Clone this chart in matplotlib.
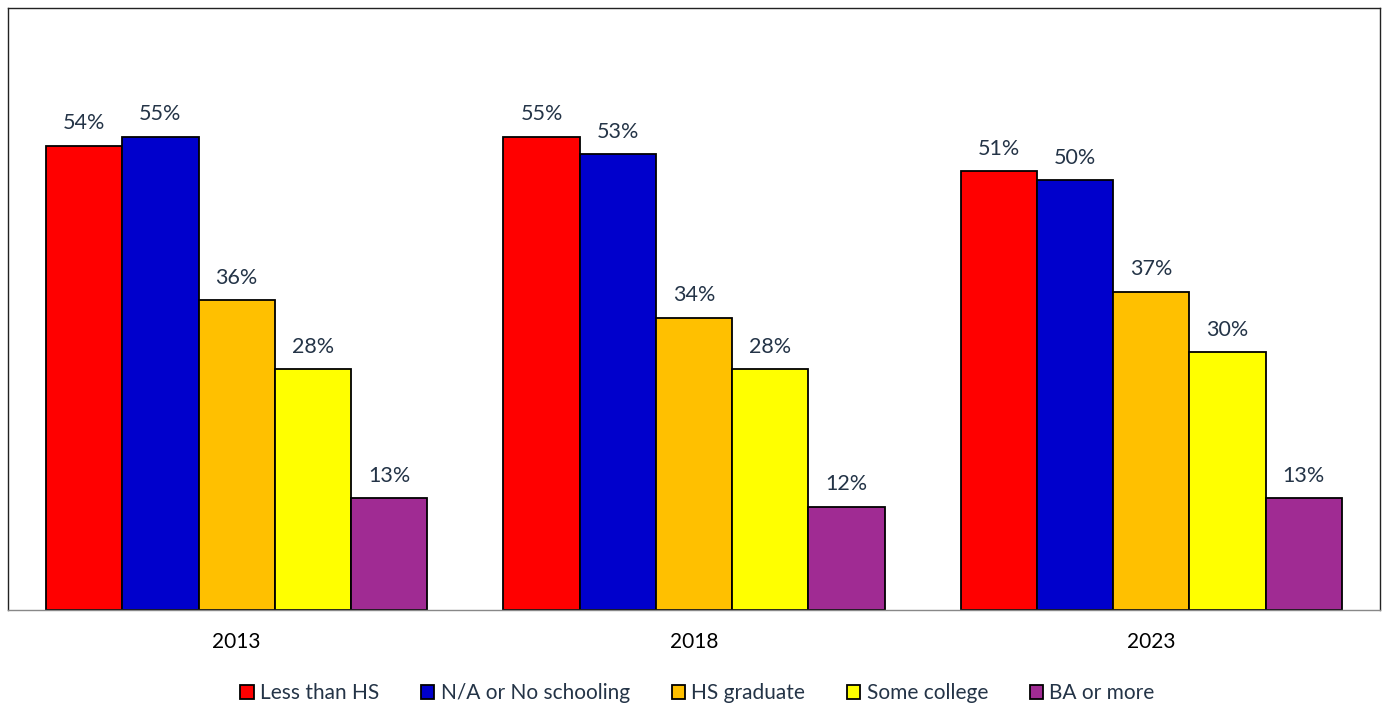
import matplotlib
matplotlib.use("Agg")
import matplotlib.pyplot as plt
import numpy as np

years = ["2013", "2018", "2023"]
series_names = ["Less than HS", "N/A or No schooling", "HS graduate", "Some college", "BA or more"]
less_than_hs = [54, 55, 51]
na_no_schooling = [55, 53, 50]
hs_graduate = [36, 34, 37]
some_college = [28, 28, 30]
ba_or_more = [13, 12, 13]
colors = ["#FF0000", "#0000CC", "#FFC000", "#FFFF00", "#A02B93"]

plt.rcParams["font.family"] = ["Lato", "DejaVu Sans"]
label_color = "#243447"

fig = plt.figure(figsize=(13.82, 7.07), dpi=100)
ax = fig.add_axes([8 / 1382, 97 / 707, 1372 / 1382, 602 / 707])

values = [less_than_hs, na_no_schooling, hs_graduate, some_college, ba_or_more]
x = np.arange(len(years))
w = 1 / 6
for i, (name, vals, c) in enumerate(zip(series_names, values, colors)):
    pos = x + (i - 2) * w
    bars = ax.bar(pos, vals, width=w, color=c, edgecolor="black", linewidth=1.3, label=name)
    for b, v in zip(bars, vals):
        ax.annotate(f"{v}%", (b.get_x() + b.get_width() / 2, v), xytext=(0, 9),
                    textcoords="offset points", ha="center", va="bottom",
                    fontsize=15.5, color=label_color)

ax.set_xlim(-0.5, 2.5)
ax.set_ylim(0, 70)
ax.set_yticks([])
ax.set_xticks(x)
ax.set_xticklabels(years, fontsize=15, color="black")
ax.tick_params(axis="x", length=0, pad=16)
for side in ["top", "left", "right"]:
    ax.spines[side].set_color("#222222")
    ax.spines[side].set_linewidth(1.0)
ax.spines["bottom"].set_color("#888888")
ax.spines["bottom"].set_linewidth(1.0)

leg = fig.legend(loc="center", bbox_to_anchor=(0.5047, 1 - 693 / 707), ncol=5, frameon=False,
                 fontsize=15, handlelength=0.65, handleheight=0.65, handletextpad=0.3,
                 columnspacing=2.0)
for t in leg.get_texts():
    t.set_color(label_color)

fig.savefig("out.png", dpi=100)
